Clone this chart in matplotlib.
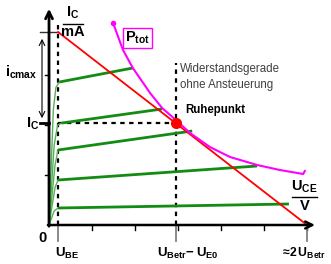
import matplotlib
matplotlib.use("Agg")
import matplotlib.pyplot as plt
from matplotlib import font_manager

names = {f.name for f in font_manager.fontManager.ttflist}
FONT = "Liberation Sans Narrow" if "Liberation Sans Narrow" in names else "Liberation Sans"
plt.rcParams["font.family"] = [FONT, "DejaVu Sans"]
plt.rcParams["mathtext.fontset"] = "custom"
plt.rcParams["mathtext.rm"] = FONT + ":bold"
plt.rcParams["mathtext.bf"] = FONT + ":bold"
plt.rcParams["mathtext.it"] = FONT + ":bold"

# output characteristics (U_CE, I_C)
curve_x = [
    [0, 0.10, 0.16, 0.24, 1.95],
    [0, 0.12, 0.20, 0.30, 2.63],
    [0, 0.14, 0.21, 3.33],
    [0, 0.14, 0.21, 4.84],
    [0, 0.12, 0.21, 5.58],
]
curve_y = [
    [0, 2.30, 2.75, 2.86, 3.14],
    [0, 1.60, 2.00, 2.04, 2.32],
    [0, 1.20, 1.50, 1.88],
    [0, 0.75, 0.90, 1.18],
    [0, 0.28, 0.34, 0.42],
]

# P_tot hyperbola points
ptot_x = [1.49, 1.72, 1.95, 2.35, 2.63, 2.95, 3.28, 3.74, 4.21, 4.84, 5.37, 5.91, 5.95]
ptot_y = [4.04, 3.50, 3.14, 2.64, 2.34, 2.10, 1.84, 1.56, 1.36, 1.20, 1.10, 1.02, 1.08]

# load line (Widerstandsgerade) and operating point
load_x = [0.21, 6.0]
load_y = [3.86, 0.0]
u_be = 0.21
q_x, q_y = 2.96, 2.04
x_ticks = [1, 2, 3, 4, 5, 6]
y_ticks = [1, 2, 3]

fig = plt.figure(figsize=(3.31, 2.64), dpi=100)
ax = fig.add_axes([0, 0, 1, 1])
ax.set_xlim(-1.14, 6.558)
ax.set_ylim(-0.78, 4.5)
ax.axis("off")

# axes with arrows
ax.annotate("", xy=(6.25, 0), xytext=(-0.09, 0),
            arrowprops=dict(arrowstyle="->,head_length=0.5,head_width=0.25", lw=1.8, color="black"))
ax.annotate("", xy=(0, 4.38), xytext=(0, -0.08),
            arrowprops=dict(arrowstyle="->,head_length=0.5,head_width=0.25", lw=2.0, color="black"))

for t in x_ticks:
    ax.plot([t, t], [0, -0.1], color="black", lw=1)
for t in y_ticks:
    ax.plot([0, -0.09], [t, t], color="black", lw=1)
ax.plot([0, -0.21], [q_y, q_y], color="black", lw=2)

# gray marks below the axis
for t in [u_be, q_x, 6.0]:
    ax.plot([t, t], [-0.02, -0.32], color="gray", lw=1.3)

# dashed helper lines
dash = dict(color="black", lw=1.6, linestyle=(0, (2, 2)))
ax.plot([u_be, u_be], [0, 4.06], **dash)
ax.plot([q_x, q_x], [0, 3.24], **dash)
ax.plot([0.21, q_x], [q_y, q_y], **dash)

# i_cmax dimension
ax.plot([-0.21, 0.21], [3.86, 3.86], color="#333333", lw=1)
ax.annotate("", xy=(-0.163, 3.78), xytext=(-0.163, 2.08),
            arrowprops=dict(arrowstyle="<->,head_length=0.4,head_width=0.2", lw=0.8, color="black"))

# curves
for cx, cy in zip(curve_x, curve_y):
    k = len(cx) - 2
    ax.plot(cx[:k + 1], cy[:k + 1], color="#55b055", lw=1.0)
    ax.plot(cx[k:], cy[k:], color="#128c12", lw=2.0, solid_capstyle="butt")

ax.plot(load_x, load_y, color="#ff0000", lw=1.3)
ax.plot(ptot_x, ptot_y, color="#ff00ff", lw=1.5)
ax.plot(ptot_x[0], ptot_y[0], "o", color="#ff00ff", ms=3)
ax.plot(q_x, q_y, "o", color="#ff0000", ms=7)

# labels
big = 10.5
ax.text(0.55, 4.25, r"$\mathrm{I_C}$", fontsize=big, ha="center", va="center")
ax.plot([0.33, 0.79], [4.02, 4.02], color="black", lw=1)
ax.text(0.56, 3.87, "mA", fontsize=big, fontweight="bold", ha="center", va="center")

ax.text(2.05, 3.74, r"$\mathrm{P_{tot}}$", fontsize=big, ha="center", va="center",
        bbox=dict(boxstyle="square,pad=0.15", fc="white", ec="#ff00ff", lw=1))

ax.text(-0.65, 3.05, r"$\mathrm{i_{cmax}}$", fontsize=big, ha="center", va="center")
ax.text(-0.37, 2.03, r"$\mathrm{I_C}$", fontsize=big, ha="center", va="center")

ax.text(3.05, 3.12, "Widerstandsgerade", fontsize=8.3, color="#404040", va="center")
ax.text(3.05, 2.80, "ohne Ansteuerung", fontsize=8.3, color="#404040", va="center")
ax.text(3.16, 2.30, "Ruhepunkt", fontsize=8.3, fontweight="bold", va="center")

ax.text(5.93, 0.76, r"$\mathrm{U_{CE}}$", fontsize=big, ha="center", va="center")
ax.plot([5.65, 6.23], [0.56, 0.56], color="black", lw=1)
ax.text(5.95, 0.38, "V", fontsize=big, fontweight="bold", ha="center", va="center")

low = 9.5
ax.text(-0.15, -0.25, "0", fontsize=big, fontweight="bold", ha="center", va="center")
ax.text(0.14, -0.56, r"$\mathrm{U_{BE}}$", fontsize=low, ha="left", va="center")
ax.text(2.51, -0.56, r"$\mathrm{U_{Betr}\!-U_{E0}}$", fontsize=low, ha="left", va="center")
ax.text(5.38, -0.56, r"$\mathrm{\approx\!2\,U_{Betr}}$", fontsize=8.8, ha="left", va="center")

fig.savefig("out.png", dpi=100, facecolor="white")
